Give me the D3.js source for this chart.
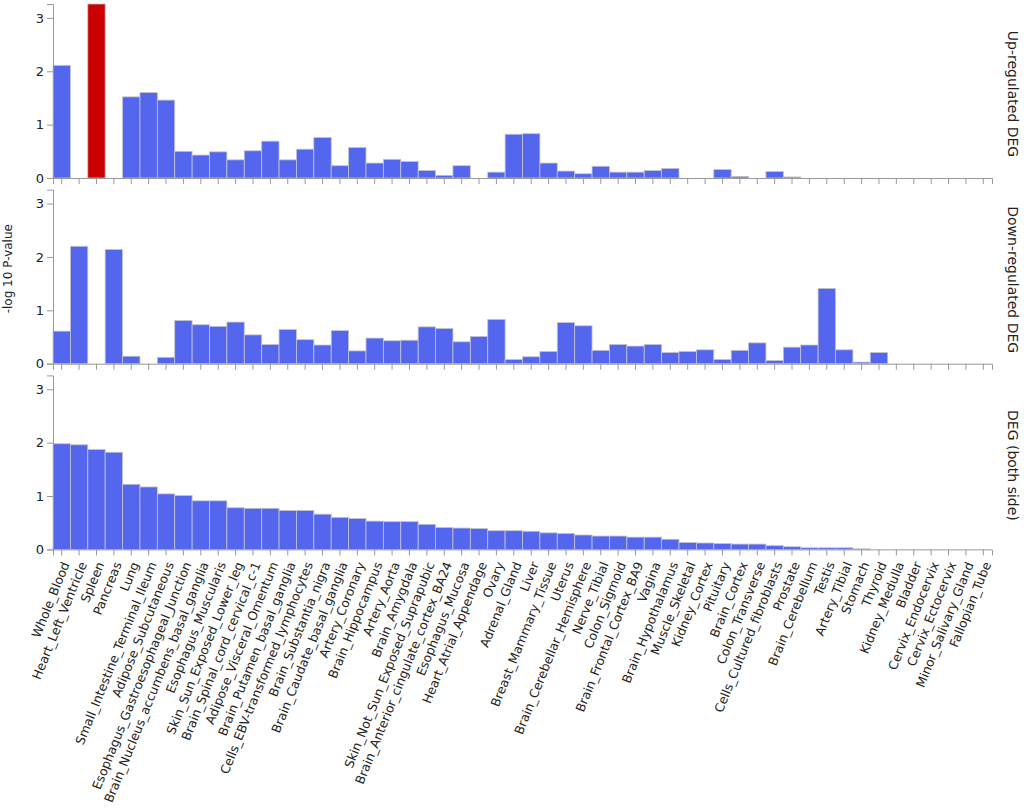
<!DOCTYPE html>
<html>
<head>
<meta charset="utf-8">
<script src="https://cdn.jsdelivr.net/npm/d3@7"></script>
<style>
  body { margin: 0; background: #fff; }
  svg text { font-family: "DejaVu Sans", Verdana, sans-serif; fill: #222; }
  .axis path, .axis line { stroke: #999; }
</style>
</head>
<body>
<svg id="chart" width="1024" height="810"></svg>
<script>
var tissues = [
  'Whole_Blood', 'Heart_Left_Ventricle', 'Spleen', 'Pancreas', 'Lung',
  'Small_Intestine_Terminal_Ileum', 'Adipose_Subcutaneous',
  'Esophagus_Gastroesophageal_Junction', 'Brain_Nucleus_accumbens_basal_ganglia',
  'Esophagus_Muscularis', 'Skin_Sun_Exposed_Lower_leg', 'Brain_Spinal_cord_cervical_c-1',
  'Adipose_Visceral_Omentum', 'Brain_Putamen_basal_ganglia', 'Cells_EBV-transformed_lymphocytes',
  'Brain_Substantia_nigra', 'Brain_Caudate_basal_ganglia', 'Artery_Coronary',
  'Brain_Hippocampus', 'Artery_Aorta', 'Brain_Amygdala', 'Skin_Not_Sun_Exposed_Suprapubic',
  'Brain_Anterior_cingulate_cortex_BA24', 'Esophagus_Mucosa', 'Heart_Atrial_Appendage',
  'Ovary', 'Adrenal_Gland', 'Liver', 'Breast_Mammary_Tissue', 'Uterus',
  'Brain_Cerebellar_Hemisphere', 'Nerve_Tibial', 'Colon_Sigmoid', 'Brain_Frontal_Cortex_BA9',
  'Vagina', 'Brain_Hypothalamus', 'Muscle_Skeletal', 'Kidney_Cortex', 'Pituitary',
  'Brain_Cortex', 'Colon_Transverse', 'Cells_Cultured_fibroblasts', 'Prostate',
  'Brain_Cerebellum', 'Testis', 'Artery_Tibial', 'Stomach', 'Thyroid', 'Kidney_Medulla',
  'Bladder', 'Cervix_Endocervix', 'Cervix_Ectocervix', 'Minor_Salivary_Gland', 'Fallopian_Tube'
];

// -log10 p-values, same tissue order as above
var upDEG = [
  2.11, 0, 3.26, 0, 1.52, 1.60, 1.46, 0.50, 0.43, 0.49,
  0.34, 0.51, 0.69, 0.34, 0.54, 0.76, 0.23, 0.57, 0.28, 0.35,
  0.31, 0.14, 0.05, 0.23, 0, 0.11, 0.82, 0.83, 0.28, 0.13,
  0.08, 0.22, 0.11, 0.11, 0.14, 0.18, 0, 0, 0.16, 0.03,
  0, 0.12, 0.02, 0, 0, 0, 0, 0, 0, 0,
  0, 0, 0, 0
];
var downDEG = [
  0.61, 2.20, 0, 2.14, 0.14, 0, 0.12, 0.81, 0.73, 0.70,
  0.78, 0.54, 0.36, 0.64, 0.45, 0.35, 0.62, 0.24, 0.48, 0.43,
  0.44, 0.69, 0.66, 0.41, 0.51, 0.83, 0.08, 0.13, 0.23, 0.77,
  0.71, 0.25, 0.36, 0.33, 0.36, 0.21, 0.23, 0.26, 0.08, 0.25,
  0.39, 0.06, 0.31, 0.35, 1.41, 0.26, 0.03, 0.21, 0, 0,
  0, 0, 0, 0
];
var bothDEG = [
  1.98, 1.96, 1.87, 1.82, 1.22, 1.17, 1.04, 1.01, 0.91, 0.91,
  0.78, 0.77, 0.77, 0.73, 0.73, 0.66, 0.60, 0.58, 0.53, 0.52,
  0.52, 0.47, 0.41, 0.40, 0.39, 0.35, 0.35, 0.34, 0.31, 0.30,
  0.27, 0.25, 0.25, 0.23, 0.23, 0.19, 0.13, 0.12, 0.11, 0.10,
  0.10, 0.07, 0.05, 0.03, 0.03, 0.03, 0.01, 0, 0, 0,
  0, 0, 0, 0
];

var panelTitles = ['Up-regulated DEG', 'Down-regulated DEG', 'DEG (both side)'];
var panelValues = [upDEG, downDEG, bothDEG];
var yTicks = [0, 1, 2, 3];
var yLabel = '-log 10 P-value';
// the only significant bar gets drawn in red
var highlight = { panel: 0, tissue: 'Spleen' };

var barColor = '#5566ee';
var highlightColor = '#cc0000';

var margin = { left: 53, right: 32, top: 4 };
var panelHeight = 174;
var panelStep = 185.7;
var width = 1024 - margin.left - margin.right;

var svg = d3.select('#chart');

var x = d3.scaleBand()
  .domain(tissues)
  .range([0, width])
  .paddingInner(0)
  .paddingOuter(0);

var yMax = d3.max(panelValues, function (vals) { return d3.max(vals); });
var y = d3.scaleLinear()
  .domain([0, yMax])
  .range([panelHeight, 0]);

panelValues.forEach(function (vals, p) {
  var top = margin.top + p * panelStep;
  var g = svg.append('g')
    .attr('class', 'panel')
    .attr('transform', 'translate(' + margin.left + ',' + top + ')');

  var data = tissues.map(function (t, i) {
    return { tissue: t, value: vals[i] };
  });

  g.selectAll('rect.bar')
    .data(data)
    .enter().append('rect')
    .attr('class', 'bar')
    .attr('x', function (d) { return x(d.tissue); })
    .attr('width', x.bandwidth())
    .attr('y', function (d) { return y(d.value); })
    .attr('height', function (d) { return panelHeight - y(d.value); })
    .attr('fill', function (d) {
      return (p === highlight.panel && d.tissue === highlight.tissue) ? highlightColor : barColor;
    })
    .attr('stroke', function (d) { return d.value > 0 ? '#c4c4cc' : 'none'; })
    .attr('stroke-width', 0.8);

  var yAxis = g.append('g')
    .attr('class', 'axis y')
    .call(d3.axisLeft(y).tickValues(yTicks).tickFormat(d3.format('d')).tickSize(6));
  yAxis.selectAll('text').style('font-size', '13px');

  var xAxis = g.append('g')
    .attr('class', 'axis x')
    .attr('transform', 'translate(0,' + panelHeight + ')')
    .call(d3.axisBottom(x).tickSize(6));

  if (p < panelValues.length - 1) {
    xAxis.selectAll('text').remove();
  } else {
    // long tissue names, tilted
    xAxis.selectAll('text')
      .attr('x', 0)
      .attr('y', 0)
      .attr('dy', '0.35em')
      .attr('text-anchor', 'end')
      .attr('transform', 'translate(4,13) rotate(-68)')
      .style('font-size', '12.5px');
  }

  svg.append('text')
    .attr('transform', 'translate(1008,' + (top + panelHeight / 2 + 3) + ') rotate(90)')
    .attr('text-anchor', 'middle')
    .style('font-size', '14px')
    .text(panelTitles[p]);
});

svg.append('text')
  .attr('transform', 'translate(12,' + (margin.top + panelStep + panelHeight / 2 - 8) + ') rotate(-90)')
  .attr('text-anchor', 'middle')
  .style('font-size', '12px')
  .text(yLabel);
</script>
</body>
</html>
